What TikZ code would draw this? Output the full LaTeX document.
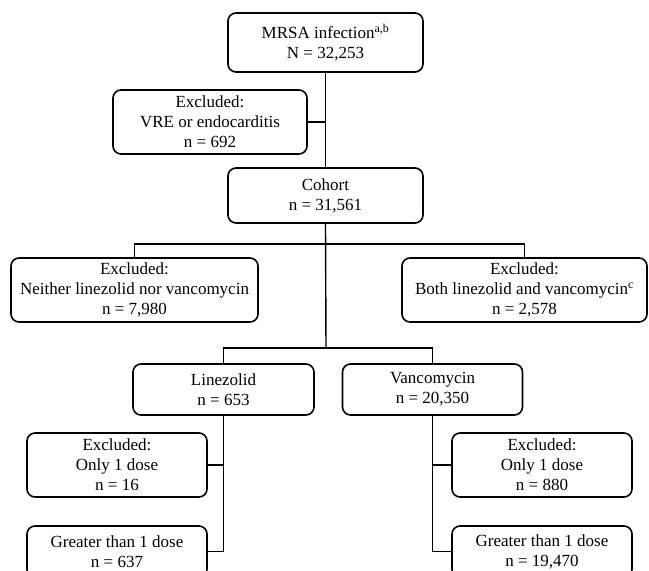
\documentclass[tikz,border=0pt]{standalone}
\usepackage{fontspec}
\setmainfont{Liberation Serif}
\begin{document}
\begin{tikzpicture}[x=1pt,y=-1pt,
  box/.style={draw, rounded corners=8pt, line width=1.6pt, align=center, inner sep=0pt,
    font=\fontsize{17}{20}\selectfont},
  conn/.style={line width=1.4pt}]
\useasboundingbox (0,0) rectangle (649,571);
\clip (0,0) rectangle (649,571);
\node[box, minimum width=195pt, minimum height=59pt] (mrsa) at (325.5,42.5) {MRSA infection\textsuperscript{a,b}\\N = 32,253};
\node[box, minimum width=194pt, minimum height=64pt] (vre) at (210,122) {Excluded:\\VRE or endocarditis\\n = 692};
\node[box, minimum width=195pt, minimum height=55pt] (cohort) at (325.5,195.5) {Cohort\\n = 31,561};
\node[box, minimum width=247pt, minimum height=64pt] (ex1) at (134.5,290) {Excluded:\\Neither linezolid nor vancomycin\\n = 7,980};
\node[box, minimum width=245pt, minimum height=64pt] (ex2) at (524.5,290) {Excluded:\\Both linezolid and vancomycin\textsuperscript{c}\\n = 2,578};
\node[box, minimum width=181pt, minimum height=51pt] (lin) at (223.5,389.5) {Linezolid\\n = 653};
\node[box, minimum width=180pt, minimum height=51pt] (van) at (432.5,389.5) {Vancomycin\\n = 20,350};
\node[box, minimum width=180pt, minimum height=64pt] (ex16) at (117,465) {Excluded:\\Only 1 dose\\n = 16};
\node[box, minimum width=180pt, minimum height=64pt] (ex880) at (542,465) {Excluded:\\Only 1 dose\\n = 880};
\node[box, minimum width=180pt, minimum height=51pt] (gt1) at (117,551.5) {Greater than 1 dose\\n = 637};
\node[box, minimum width=180pt, minimum height=51pt] (gt2) at (542,551.5) {Greater than 1 dose\\n = 19,470};
\coordinate (j1) at (326,244);
\coordinate (j2) at (326,348);
\draw[conn] (mrsa.south) -- (cohort.north);
\draw[conn] (vre.east) -- (vre.east -| mrsa.south);
\draw[conn] (cohort.south) -- (j2);
\draw[conn] (ex1.north) |- (j1) -| (ex2.north);
\draw[conn] (lin.north) |- (j2) -| (van.north);
\draw[conn] (lin.south) |- (gt1.east);
\draw[conn] (ex16.east) -- (ex16.east -| lin.south);
\draw[conn] (van.south) |- (gt2.west);
\draw[conn] (ex880.west) -- (ex880.west -| van.south);
\end{tikzpicture}
\end{document}
